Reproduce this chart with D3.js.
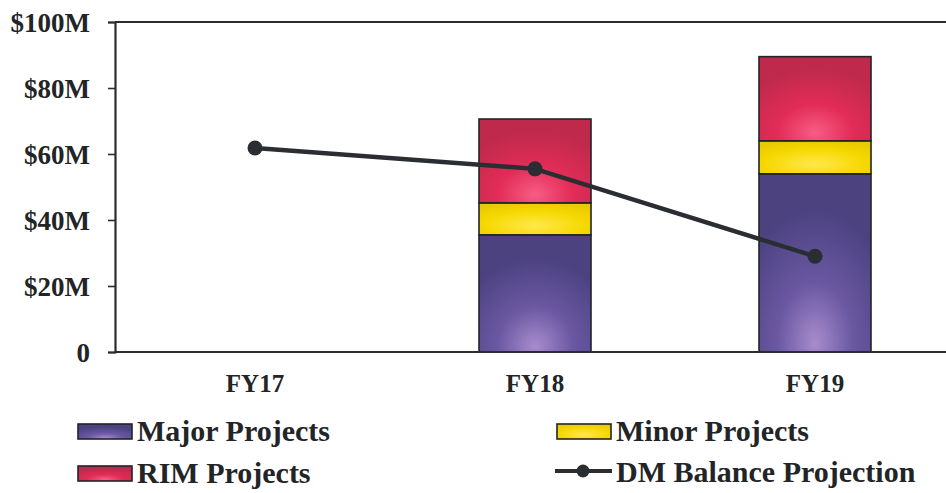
<!DOCTYPE html>
<html>
<head>
<meta charset="utf-8">
<script src="https://cdn.jsdelivr.net/npm/d3@7/dist/d3.min.js"></script>
<style>
  html, body { margin: 0; padding: 0; background: #fff; }
</style>
</head>
<body>
<svg id="chart" width="946" height="493"></svg>
<script>
// Fiscal years and funding sources ($M)
const years = ["FY17", "FY18", "FY19"];
const majorProjects = [0, 35.5, 54.0];
const minorProjects = [0, 9.7, 10.0];
const rimProjects = [0, 25.4, 25.5];
const dmBalance = [61.8, 55.5, 29.0];
const yTicks = [0, 20, 40, 60, 80, 100];

const FONT = "'Liberation Serif', 'Times New Roman', Times, serif";

const series = [
  { key: "major", name: "Major Projects", values: majorProjects, fill: "url(#gradMajor)" },
  { key: "minor", name: "Minor Projects", values: minorProjects, fill: "url(#gradMinor)" },
  { key: "rim", name: "RIM Projects", values: rimProjects, fill: "url(#gradRim)" }
];

const table = years.map((y, i) => ({
  year: y, major: majorProjects[i], minor: minorProjects[i], rim: rimProjects[i]
}));

const svg = d3.select("#chart");
const margin = { left: 115, top: 22, right: -9, bottom: 141 };
const W = 946, H = 493;

const x = d3.scaleBand().domain(years)
  .range([margin.left, W - margin.right]).paddingInner(0.6).paddingOuter(0.3);
const y = d3.scaleLinear().domain([0, 100]).range([H - margin.bottom, margin.top]);

function styleText(sel, size) {
  sel.attr("font-family", null)
    .style("font-family", FONT)
    .style("font-weight", "bold")
    .style("font-size", size + "px")
    .style("fill", "#222426");
}

// Gradients
const defs = svg.append("defs");
function radial(id, cy, stops) {
  const g = defs.append("radialGradient").attr("id", id)
    .attr("cx", 0.5).attr("cy", cy).attr("r", 0.75).attr("fx", 0.5).attr("fy", cy);
  stops.forEach(s => g.append("stop").attr("offset", s[0]).attr("stop-color", s[1]));
}
radial("gradMajor", 0.95, [[0, "#a78ccc"], [0.45, "#6a58a2"], [1, "#4c4280"]]);
radial("gradMinor", 0.7, [[0, "#ffe84a"], [0.6, "#f6d800"], [1, "#e8c800"]]);
radial("gradRim", 0.9, [[0, "#f75c86"], [0.45, "#e22c57"], [1, "#bf2a4c"]]);

// Top rule across the plot
svg.append("line").attr("stroke", "#2a2c2e").attr("stroke-width", 2)
  .attr("x1", margin.left).attr("x2", W).attr("y1", y(100)).attr("y2", y(100));

// Stacked bars
const stacked = d3.stack().keys(series.map(s => s.key))(table);
const barG = svg.append("g");
stacked.forEach((layer, li) => {
  barG.selectAll(null).data(layer.filter(d => d[1] > d[0])).join("rect")
    .attr("x", d => x(d.data.year))
    .attr("width", x.bandwidth())
    .attr("y", d => y(d[1]))
    .attr("height", d => y(d[0]) - y(d[1]))
    .attr("fill", series[li].fill)
    .attr("stroke", "#222428")
    .attr("stroke-width", 1.6);
});

// Axes
const yAxis = d3.axisLeft(y).tickValues(yTicks).tickSize(7).tickPadding(18)
  .tickFormat(d => d === 0 ? "0" : "$" + d + "M");
const yg = svg.append("g").attr("transform", `translate(${margin.left},0)`).call(yAxis);
yg.attr("font-family", null).attr("font-size", null);
yg.select(".domain").attr("stroke", "#2a2c2e").attr("stroke-width", 2.2);
yg.selectAll(".tick line").attr("stroke", "#2a2c2e").attr("stroke-width", 1.6);
yg.selectAll(".tick text").call(styleText, 27).attr("dy", "0.34em");

svg.append("line").attr("stroke", "#2a2c2e").attr("stroke-width", 2.2)
  .attr("x1", margin.left).attr("x2", W).attr("y1", y(0)).attr("y2", y(0));

const xAxis = d3.axisBottom(x).tickSize(0).tickPadding(22);
const xg = svg.append("g").attr("transform", `translate(0,${y(0)})`).call(xAxis);
xg.attr("font-family", null).attr("font-size", null);
xg.select(".domain").remove();
xg.selectAll(".tick text").call(styleText, 25);

// Balance projection line
const xc = d => x(d) + x.bandwidth() / 2;
const line = d3.line().x((d, i) => xc(years[i])).y(d => y(d));
svg.append("path").datum(dmBalance).attr("d", line)
  .attr("fill", "none").attr("stroke", "#2a2e32").attr("stroke-width", 4.5);
svg.selectAll(".pt").data(dmBalance).join("circle")
  .attr("cx", (d, i) => xc(years[i])).attr("cy", d => y(d)).attr("r", 7.5)
  .attr("fill", "#2a2e32");

// Legend
const legend = svg.append("g");
const items = [
  { name: "Major Projects", fill: "url(#gradMajor)", x: 78, tx: 137, y: 441 },
  { name: "Minor Projects", fill: "url(#gradMinor)", x: 557, tx: 616, y: 441 },
  { name: "RIM Projects", fill: "url(#gradRim)", x: 78, tx: 137, y: 483 },
  { name: "DM Balance Projection", line: true, x: 555, tx: 616, y: 482 }
];
items.forEach(it => {
  const g = legend.append("g");
  if (it.line) {
    g.append("line").attr("x1", it.x).attr("x2", it.x + 57)
      .attr("y1", it.y - 11).attr("y2", it.y - 11)
      .attr("stroke", "#2a2e32").attr("stroke-width", 4);
    g.append("circle").attr("cx", it.x + 28).attr("cy", it.y - 11).attr("r", 6.5).attr("fill", "#2a2e32");
  } else {
    g.append("rect").attr("x", it.x).attr("y", it.y - 17).attr("width", 54).attr("height", 15)
      .attr("fill", it.fill).attr("stroke", "#222428").attr("stroke-width", 1.6);
  }
  g.append("text").attr("x", it.tx).attr("y", it.y).text(it.name).call(styleText, 30);
});
</script>
</body>
</html>
